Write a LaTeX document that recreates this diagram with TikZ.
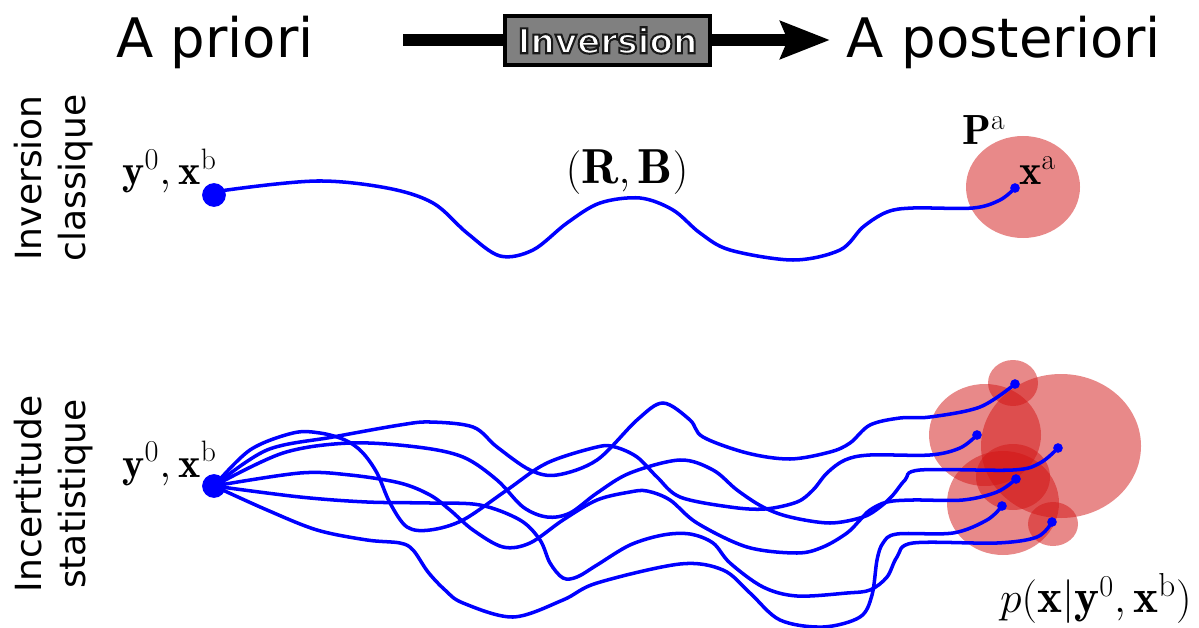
\documentclass[tikz,border=0pt]{standalone}
\usepackage{fontspec}
\usepackage{amsmath}
\newfontfamily\dejavu{DejaVu Sans}
\newfontfamily\dejavuol[FakeBold=6]{DejaVu Sans Bold}
\usetikzlibrary{arrows.meta}
\definecolor{blobred}{RGB}{210,20,20}
\definecolor{boxgray}{RGB}{128,128,128}
\pgfdeclarelayer{blobs}
\pgfdeclarelayer{curves}
\pgfsetlayers{blobs,curves,main}
\begin{document}
\begin{tikzpicture}[x=0.02cm, y=-0.02cm,
  hdr/.style={font=\dejavu\fontsize{31}{37}\selectfont, inner sep=0pt},
  side/.style={font=\dejavu\fontsize{20.5}{25}\selectfont, rotate=90, align=center, inner sep=0pt},
  mathlbl/.style={font=\fontsize{24}{28}\selectfont, inner sep=0pt},
  biglbl/.style={font=\fontsize{28}{32}\selectfont, inner sep=0pt},
  postlbl/.style={font=\fontsize{27}{31}\selectfont, inner sep=0pt},
  bigdot/.style={circle, fill=blue, inner sep=0pt, minimum size=13.5pt},
  smalldot/.style={circle, fill=blue, inner sep=0pt, minimum size=5.5pt},
  bluecurve/.style={draw=blue, line width=2pt, line cap=round},
  blob/.style={fill=blobred, fill opacity=0.5, draw=none},
  arrowline/.style={line width=6.5pt, -{Stealth[length=28pt, width=21pt, inset=4pt]}},
  invbox/.style={draw=black, line width=2.3pt, fill=boxgray, minimum width=117pt, minimum height=27.5pt, inner sep=0pt, font=\dejavuol\fontsize{19.5}{24}\selectfont}
]
\path[use as bounding box] (0,0) rectangle (1199,628);

% header
\node[hdr, anchor=base] (apriori) at (215,58) {A priori};
\node[hdr, anchor=base] (aposteriori) at (1004,58) {A posteriori};
\coordinate (arrL) at (403,40);
\coordinate (arrR) at (830,40);
\draw[arrowline] (arrL) -- (arrR);
\node[invbox] (inv) at (607.5,40.5) {\color{white}\special{pdf:literal direct 0.1 G}Inversion};

% side labels
\node[side] (lab1) at (54,178) {Inversion\\classique};
\node[side] (lab2) at (54,494) {Incertitude\\statistique};

% dots
\node[bigdot] (s1) at (214,195) {};
\node[bigdot] (s2) at (214,486) {};
\node[smalldot] (xa) at (1015,188) {};
\node[smalldot] (eA) at (1015,384) {};
\node[smalldot] (eB) at (977,435) {};
\node[smalldot] (eC) at (1058,448) {};
\node[smalldot] (eD) at (1016,479) {};
\node[smalldot] (eE) at (1002,506) {};
\node[smalldot] (eF) at (1052,522) {};

% math labels
\node[mathlbl, anchor=base west] (l1) at (122,185) {$\mathbf{y}^0,\mathbf{x}^{\mathrm{b}}$};
\node[mathlbl, anchor=base west] (l2) at (122,477) {$\mathbf{y}^0,\mathbf{x}^{\mathrm{b}}$};
\node[biglbl] (rb) at (627,172) {$(\mathbf{R},\mathbf{B})$};
\node[mathlbl, anchor=base west] (pa) at (962,145) {$\mathbf{P}^{\mathrm{a}}$};
\node[mathlbl, anchor=base west] (xal) at (1019,185) {$\mathbf{x}^{\mathrm{a}}$};
\node[postlbl, anchor=base east] (post) at (1192,612) {$p(\mathbf{x}|\mathbf{y}^0,\mathbf{x}^{\mathrm{b}})$};

% red blobs
\begin{pgfonlayer}{blobs}
\fill[blob] (1023,187) ellipse [x radius=57, y radius=51];
\fill[blob] (1061,446) ellipse [x radius=80, y radius=72];
\fill[blob] (985,435) ellipse [x radius=56, y radius=51];
\fill[blob] (1003,503) ellipse [x radius=56, y radius=52];
\fill[blob] (1013,477) ellipse [x radius=37, y radius=33];
\fill[blob] (1013,383) ellipse [x radius=25, y radius=23];
\fill[blob] (1053,524) ellipse [x radius=25, y radius=22];
\end{pgfonlayer}

% curves
\begin{pgfonlayer}{curves}
\draw[bluecurve] plot[smooth, tension=0.55] coordinates {(s1.center) (227,190) (317,181) (387,188) (433,203) (467,233) (500,256) (533,250) (567,223) (600,203) (640,198) (673,210) (700,233) (730,250) (793,260) (840,250) (863,227) (887,212) (913,208) (973,208) (1000,200) (xa.center)};

% a -> B
\draw[bluecurve] plot[smooth, tension=0.55] coordinates {(s2.center) (250,450) (293,433) (320,433) (345,440) (362,452) (377,473) (390,503) (407,527) (430,530) (463,520) (507,490) (547,463) (597,447) (615,447) (637,457) (657,477) (680,497) (730,507) (765,509) (797,502) (813,490) (827,473) (845,460) (870,455) (930,455) (960,448) (eB.center)};
% b -> A
\draw[bluecurve] plot[smooth, tension=0.55] coordinates {(s2.center) (267,450) (333,437) (400,425) (430,422) (473,427) (497,447) (530,470) (557,475) (597,460) (637,420) (663,403) (690,420) (703,437) (747,453) (790,459) (830,452) (850,443) (870,425) (900,418) (930,417) (980,407) (eA.center)};
% c -> C
\draw[bluecurve] plot[smooth, tension=0.55] coordinates {(s2.center) (283,453) (350,443) (417,447) (463,457) (497,480) (523,507) (547,517) (570,513) (597,493) (630,473) (680,460) (713,470) (737,490) (763,507) (790,517) (830,523) (863,517) (880,507) (893,495) (905,480) (920,470) (1013,470) (1040,463) (eC.center)};
% d -> D
\draw[bluecurve] plot[smooth, tension=0.55] coordinates {(s2.center) (300,473) (350,475) (400,483) (430,495) (450,510) (473,530) (503,547) (530,543) (563,520) (597,500) (630,492) (647,491) (670,500) (697,523) (747,547) (797,553) (823,547) (847,533) (860,520) (870,510) (887,502) (913,500) (963,500) (997,492) (eD.center)};
% e -> F
\draw[bluecurve] plot[smooth, tension=0.55] coordinates {(s2.center) (300,497) (367,502) (430,503) (480,505) (520,520) (540,540) (550,563) (563,578) (577,577) (597,565) (630,545) (663,535) (690,534) (713,543) (730,563) (763,587) (797,596) (847,593) (870,590) (887,577) (897,557) (913,543) (997,543) (1037,537) (eF.center)};
% f -> E
\draw[bluecurve] plot[smooth, tension=0.55] coordinates {(s2.center) (267,510) (317,530) (367,540) (400,543) (413,550) (428,572) (445,590) (463,603) (513,617) (563,600) (597,583) (680,564) (723,570) (750,593) (780,620) (823,627) (860,617) (872,595) (877,560) (883,543) (897,534) (953,533) (987,520) (eE.center)};
\end{pgfonlayer}
\end{tikzpicture}
\end{document}
